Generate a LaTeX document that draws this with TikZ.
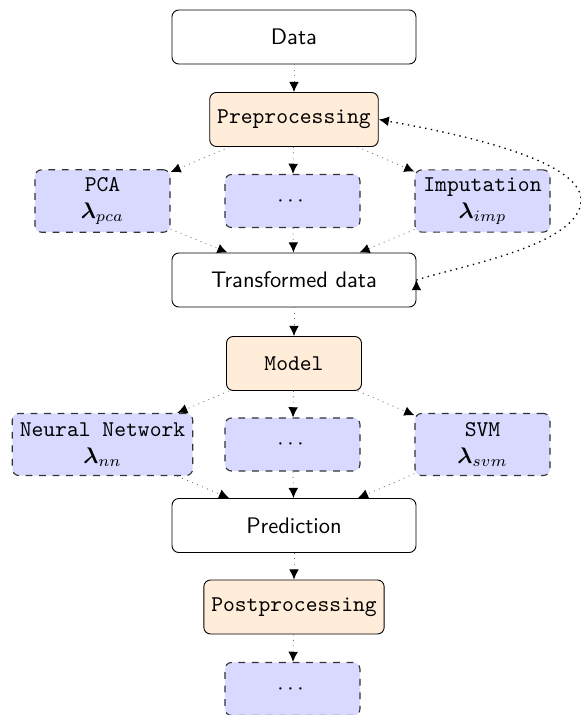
\documentclass[tikz,border=0pt]{standalone}
\usepackage{amsmath,amssymb}
\usetikzlibrary{arrows.meta,calc}
\begin{document}
\begin{tikzpicture}[x=0.4444pt,y=-0.4444pt,
  base/.style={draw, rounded corners=3pt, inner sep=3.33pt, align=center},
  io/.style={base, fill=white, font=\sffamily, minimum width=108.4pt, minimum height=24pt},
  stage/.style={base, fill=orange!15, font=\ttfamily, minimum height=24pt},
  choice/.style={base, draw=black!80, dashed, semithin, fill=blue!15, font=\ttfamily,
    minimum width=60pt, minimum height=23.6pt},
  semithin/.style={line width=0.5pt},
  tip/.style={-{Latex[length=4.5pt, width=4.3pt, black]}},
  flow/.style={draw=black!55, dotted, tip},
  feedback/.style={draw=black, dotted, semithick}
]
\useasboundingbox (0,0) rectangle (581,715);

% main pipeline
\node[io]    (data)  at (294,37)    {Data};
\node[stage] (pre)   at (294,119.5) {Preprocessing};
\node[io]    (trans) at (294,280)   {Transformed data};
\node[stage, minimum width=60pt] (model) at (294,363.5) {Model};
\node[io]    (pred)  at (294,525.5) {Prediction};
\node[stage] (post)  at (294,607)   {Postprocessing};

% alternatives for each stage
\node[choice, minimum height=27.6pt] (pca)  at (102.5,201) {PCA\\$\boldsymbol{\lambda}_{pca}$};
\node[choice] (alt1) at (292.5,201) {$\cdots$};
\node[choice, minimum height=27.6pt] (imp)  at (482.5,201) {Imputation\\$\boldsymbol{\lambda}_{imp}$};

\node[choice, minimum height=27.6pt] (nn)   at (102.5,444.5) {Neural Network\\$\boldsymbol{\lambda}_{nn}$};
\node[choice] (alt2) at (292.5,444.5) {$\cdots$};
\node[choice, minimum height=27.6pt] (svm)  at (482.5,444.5) {SVM\\$\boldsymbol{\lambda}_{svm}$};

\node[choice] (alt3) at (292.5,689) {$\cdots$};

% connectors
\draw[flow] (data) -- (pre);
\foreach \n in {pca,alt1,imp}{
  \draw[flow] (pre) -- (\n);
  \draw[flow] (\n) -- (trans);
}
\draw[flow] (trans) -- (model);
\foreach \n in {nn,alt2,svm}{
  \draw[flow] (model) -- (\n);
  \draw[flow] (\n) -- (pred);
}
\draw[flow] (pred) -- (post);
\draw[flow] (post) -- (alt3);

% feedback loop from the transformed data back to preprocessing
\coordinate (far) at (581,200);
\draw[feedback, tip]
  (trans.east) .. controls (460,266) and (581,245) .. (far)
               .. controls (581,160) and (460,134) .. (pre.east);
% upward tip where the loop leaves the transformed data
\draw[tip, thin] ($(trans.east)+(0,2)$) -- (trans.east);
\end{tikzpicture}
\end{document}
